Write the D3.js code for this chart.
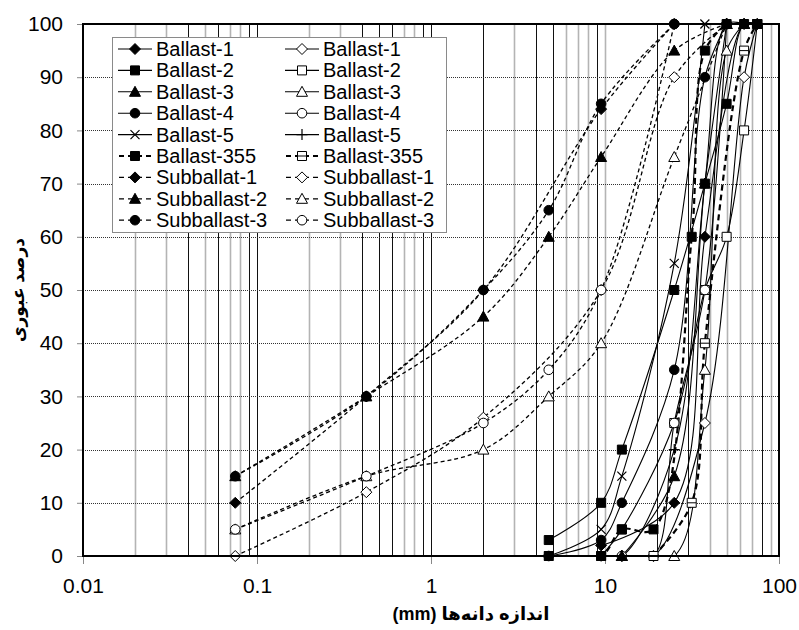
<!DOCTYPE html>
<html><head><meta charset="utf-8">
<script src="https://cdn.jsdelivr.net/npm/d3@7"></script>
<style>
body{margin:0;background:#fff}
text{font-family:"Liberation Sans",Arial,"DejaVu Sans",sans-serif;fill:#000}
</style>
</head><body>
<svg id="chart" width="799" height="630"></svg>
<script>
// ---------------- data (sieve size mm, percent passing) ----------------
const ballast1A   = [[9.5,2],[25,10],[37.5,60],[63,100],[75,100]];
const ballast1B   = [[12.5,0],[19,0],[37.5,25],[63,90],[75,100]];
const ballast2A   = [[4.75,3],[9.5,10],[12.5,20],[25,50],[37.5,70],[50,85],[63,100],[75,100]];
const ballast2B   = [[9.5,0],[12.5,5],[25,25],[37.5,50],[50,60],[63,80],[75,100]];
const ballast3A   = [[12.5,0],[25,15],[37.5,70],[50,100],[63,100]];
const ballast3B   = [[12.5,0],[25,0],[37.5,35],[50,95],[63,100]];
const ballast4A   = [[4.75,0],[9.5,3],[12.5,10],[25,35],[37.5,90],[50,100]];
const ballast4B   = [[12.5,0],[19,0],[25,25],[37.5,50],[50,100]];
const ballast5A   = [[4.75,0],[9.5,5],[12.5,15],[25,55],[37.5,100]];
const ballast5B   = [[9.5,0],[12.5,0],[25,20],[37.5,70],[50,100]];
const ballast355A = [[4.75,0],[9.5,0],[12.5,5],[19,5],[31.5,60],[37.5,95],[50,100]];
const ballast355B = [[19,0],[31.5,10],[37.5,40],[63,95],[75,100]];
const sub1A = [[0.075,10],[0.425,30],[2,50],[9.5,84],[25,100]];
const sub1B = [[0.075,0],[0.425,12],[2,26],[9.5,50],[25,90],[50,100]];
const sub2A = [[0.075,15],[0.425,30],[2,45],[4.75,60],[9.5,75],[25,95],[50,100]];
const sub2B = [[0.075,5],[0.425,15],[2,20],[4.75,30],[9.5,40],[25,75],[50,100]];
const sub3A = [[0.075,15],[0.425,30],[2,50],[4.75,65],[9.5,85],[25,100]];
const sub3B = [[0.075,5],[0.425,15],[2,25],[4.75,35],[9.5,50],[25,100]];

const leftLabels  = ["Ballast-1","Ballast-2","Ballast-3","Ballast-4","Ballast-5","Ballast-355","Subballat-1","Subballast-2","Subballast-3"];
const rightLabels = ["Ballast-1","Ballast-2","Ballast-3","Ballast-4","Ballast-5","Ballast-355","Subballast-1","Subballast-2","Subballast-3"];
const leftData  = [ballast1A,ballast2A,ballast3A,ballast4A,ballast5A,ballast355A,sub1A,sub2A,sub3A];
const rightData = [ballast1B,ballast2B,ballast3B,ballast4B,ballast5B,ballast355B,sub1B,sub2B,sub3B];

const yTicks = [0,10,20,30,40,50,60,70,80,90,100];
const xTicks = [0.01,0.1,1,10,100];
const xTickLabels = ["0.01","0.1","1","10","100"];
const xTitle = "(mm) اندازه دانه‌ها";
const yTitle = "درصد عبوری";

// ---------------- styles ----------------
const leftMarkers  = ["diamond","square","triangle","circle","x","square","diamond","triangle","circle"];
const rightMarkers = ["diamond","square","triangle","circle","plus","squareLine","diamond","triangle","circle"];
const lineKinds    = ["solid","solid","solid","solid","solid","thick","dash","dash","dash"];
const darkGrid = [0.04,0.06,0.09,0.1,0.4,0.5,0.6,0.9,1,2,4,5,9,20,30,80];

const svg = d3.select("#chart");
const L=83,R=779,T=24,B=556;
const x = d3.scaleLog().domain([0.01,100]).range([L,R]);
const y = d3.scaleLinear().domain([0,100]).range([B,T]);

svg.append("defs").append("clipPath").attr("id","plotClip")
  .append("rect").attr("x",L).attr("y",T-6).attr("width",R-L).attr("height",B-T+6);

// vertical grid (log minor + major)
const vg = [];
for (let e=-2;e<2;e++){ for(let k=1;k<10;k++){ vg.push(+(k*Math.pow(10,e)).toPrecision(3)); } }
const isDark = v => darkGrid.some(d=>Math.abs(d-v)<1e-9);
svg.append("g").selectAll("line").data(vg.filter(v=>v>0.01)).join("line")
  .attr("x1",d=>Math.round(x(d))+0.5).attr("x2",d=>Math.round(x(d))+0.5)
  .attr("y1",T).attr("y2",B)
  .attr("stroke",d=>isDark(d)?"#111":"#b4b4b4")
  .attr("stroke-width",d=>isDark(d)?1:1.6);

// horizontal dotted grid
svg.append("g").selectAll("line").data(yTicks.slice(1,-1)).join("line")
  .attr("x1",L).attr("x2",R).attr("y1",d=>Math.round(y(d))+0.5).attr("y2",d=>Math.round(y(d))+0.5)
  .attr("stroke","#333").attr("stroke-width",1).attr("stroke-dasharray","1,1");

// axes
const yAxis = svg.append("g").attr("transform",`translate(${L},0)`)
  .call(d3.axisLeft(y).tickValues(yTicks).tickSize(6).tickPadding(14).tickFormat(d3.format("d")));
const xAxis = svg.append("g").attr("transform",`translate(0,${B})`)
  .call(d3.axisBottom(x).tickValues(xTicks).tickSize(8).tickPadding(14).tickFormat((d,i)=>xTickLabels[i]));
[yAxis,xAxis].forEach(a=>{
  a.select(".domain").remove();
  a.selectAll(".tick line").attr("stroke","#888");
  a.selectAll("text").attr("font-size",21).attr("font-family",'"Liberation Sans",Arial,sans-serif').attr("fill","#000");
});

// marker shapes
function markerPath(t){
  switch(t){
    case "square": return "M-4.5,-4.5H4.5V4.5H-4.5Z";
    case "squareLine": return "M-4.5,-4.5H4.5V4.5H-4.5ZM-4.5,0H4.5";
    case "triangle": return "M0,-5.5L5.5,4.5L-5.5,4.5Z";
    case "diamond": return "M0,-5.5L5.5,0L0,5.5L-5.5,0Z";
    case "circle": return d3.arc()({innerRadius:0,outerRadius:4.8,startAngle:0,endAngle:2*Math.PI});
    case "x": return "M-4.5,-4.5L4.5,4.5M4.5,-4.5L-4.5,4.5";
    case "plus": return "M-5.5,0H5.5M0,-5.5V5.5";
  }
}
function lineStyle(sel,kind){
  sel.attr("fill","none").attr("stroke","#000");
  if(kind==="solid") sel.attr("stroke-width",1.1);
  else if(kind==="thick") sel.attr("stroke-width",2.2).attr("stroke-dasharray","6,4");
  else sel.attr("stroke-width",1.3).attr("stroke-dasharray","4,3");
}
function markerStyle(sel,type,open){
  const lineOnly = type==="x"||type==="plus";
  sel.attr("d",markerPath(type))
    .attr("fill",lineOnly?"none":(open?"#fff":"#000"))
    .attr("stroke","#000").attr("stroke-width",lineOnly?1.2:1);
}

const line = d3.line().x(d=>x(d[0])).y(d=>y(d[1])).curve(d3.curveCatmullRom.alpha(0.5));

const series = [];
rightData.forEach((d,i)=>series.push({data:d,marker:rightMarkers[i],open:true,kind:lineKinds[i]}));
leftData.forEach((d,i)=>series.push({data:d,marker:leftMarkers[i],open:false,kind:lineKinds[i]}));

const gl = svg.append("g").attr("clip-path","url(#plotClip)");
series.forEach(s=>{ lineStyle(gl.append("path").attr("d",line(s.data)),s.kind); });
const gm = svg.append("g");
series.forEach(s=>{
  gm.append("g").selectAll("path").data(s.data).join("path")
    .attr("transform",d=>`translate(${x(d[0])},${y(d[1])})`)
    .call(sel=>markerStyle(sel,s.marker,s.open));
});

// legend
const lg = svg.append("g");
lg.append("rect").attr("x",112.5).attr("y",37.5).attr("width",334).attr("height",195)
  .attr("fill","#fff").attr("stroke","#8a8a8a").attr("stroke-width",1);
function legendItem(cx,cy,label,type,open,kind){
  const ln = lg.append("line").attr("x1",cx-17).attr("x2",cx+17).attr("y1",cy).attr("y2",cy);
  lineStyle(ln,kind);
  if(kind!=="solid") ln.attr("stroke-dasharray","5,4").attr("stroke-dashoffset",-1);
  lg.append("path").attr("transform",`translate(${cx},${cy})`).call(sel=>markerStyle(sel,type,open));
  lg.append("text").attr("x",cx+21).attr("y",cy+7).attr("font-size",20).text(label);
}
leftLabels.forEach((lab,i)=>legendItem(135,49+i*21.4,lab,leftMarkers[i],false,lineKinds[i]));
rightLabels.forEach((lab,i)=>legendItem(302,49+i*21.4,lab,rightMarkers[i],true,lineKinds[i]));

// border
svg.append("rect").attr("x",L).attr("y",T).attr("width",R-L).attr("height",B-T)
  .attr("fill","none").attr("stroke","#000").attr("stroke-width",2);

// titles
svg.append("text").attr("x",471).attr("y",620).attr("text-anchor","middle")
  .attr("font-size",18).attr("font-weight","bold").text(xTitle);
svg.append("text").attr("transform","translate(24,290) rotate(-90)").attr("text-anchor","middle")
  .attr("font-size",17).attr("font-weight","bold").text(yTitle);
</script>
</body></html>
